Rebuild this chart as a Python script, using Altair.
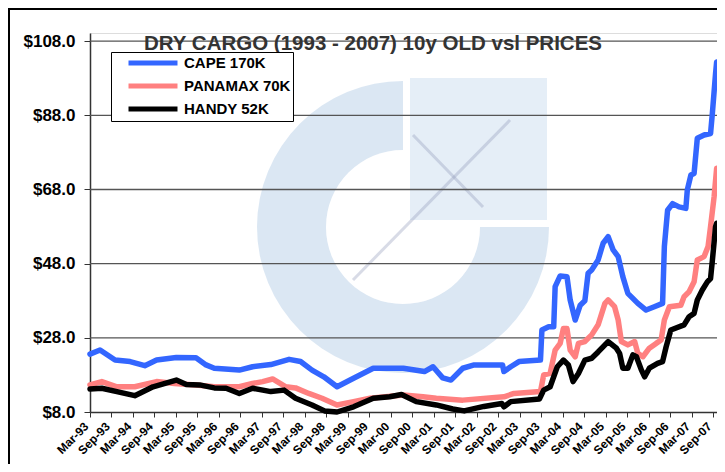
import json
import altair as alt
import pandas as pd

# ---------------- data (months since Mar-93, price in $M) ----------------
series_names = ["CAPE 170K", "PANAMAX 70K", "HANDY 52K"]
series_colors = ["#3366FF", "#FF8080", "#000000"]

cape_m = [0.0, 2.8, 7.0, 11.2, 15.3, 18.6, 24.1, 29.6, 32.4, 34.7, 41.7, 45.4, 50.5, 55.6, 58.8,
          62.0, 65.3, 69.0, 73.6, 79.1, 87.5, 93.4, 95.8, 98.5, 100.8, 104.1, 107.3, 115.2, 115.6,
          117.5, 119.8, 125.8, 126.2, 128.1, 129.5, 129.9, 131.3, 133.2, 134.1, 135.5, 136.9, 138.2,
          139.1, 140.1, 141.9, 143.3, 144.7, 146.1, 147.5, 148.8, 150.2, 153.0, 155.3, 157.6, 159.9,
          160.4, 161.3, 162.7, 164.5, 166.4, 166.8, 167.8, 168.7, 169.6, 171.5, 173.3, 173.8, 174.7, 175.0]
cape_v = [23.6, 24.7, 22.0, 21.6, 20.5, 22.0, 22.7, 22.6, 20.7, 19.8, 19.3, 20.2, 20.8, 22.2, 21.6,
          19.3, 17.5, 14.8, 17.1, 19.8, 19.8, 18.9, 20.2, 17.2, 16.6, 19.8, 20.7, 20.7, 18.9,
          20.2, 21.6, 22.0, 30.1, 31.0, 31.0, 41.8, 44.7, 44.5, 38.2, 32.8, 36.8, 38.0,
          45.4, 46.3, 49.0, 53.5, 55.3, 51.7, 49.9, 44.5, 40.0, 37.3, 35.5, 36.4, 37.3,
          52.6, 62.4, 64.2, 63.3, 62.9, 67.8, 71.9, 72.3, 81.8, 82.7, 83.1, 88.5, 99.3, 102.4]

pmax_m = [0.0, 3.3, 7.5, 12.5, 18.6, 23.6, 29.6, 34.7, 41.7, 45.4, 48.2, 51.0, 54.7, 57.4, 61.1,
          64.8, 69.0, 73.6, 78.2, 87.5, 93.0, 96.7, 104.1, 115.6, 118.4, 125.8, 126.7, 128.5, 129.9,
          131.3, 132.2, 133.2, 134.1, 135.5, 136.4, 138.2, 140.1, 141.9, 143.8, 144.7, 146.5, 147.5,
          148.4, 150.2, 152.1, 153.0, 154.4, 156.2, 158.1, 159.5, 160.4, 161.8, 165.0, 165.9, 167.3,
          168.7, 169.6, 171.5, 172.6, 173.3, 174.3, 175.0]
pmax_v = [15.3, 16.2, 14.8, 14.8, 16.2, 15.7, 15.3, 14.8, 14.8, 15.7, 16.2, 16.9, 14.8, 14.5, 13.0,
          11.7, 9.9, 10.8, 11.7, 12.6, 12.1, 11.7, 11.2, 12.1, 13.0, 13.5, 18.0, 18.4, 24.7,
          26.5, 30.5, 30.5, 24.7, 22.9, 26.5, 27.0, 28.8, 31.5, 37.3, 38.2, 36.4, 32.8,
          27.0, 26.1, 27.0, 23.8, 22.9, 25.2, 26.5, 27.4, 32.8, 36.4, 36.8, 39.1, 40.4,
          43.1, 49.0, 49.9, 52.6, 58.0, 66.1, 73.7]

handy_m = [0.0, 3.3, 7.5, 12.5, 17.6, 24.1, 26.9, 30.6, 34.7, 38.0, 41.7, 45.4, 50.5, 54.2, 57.4,
           62.0, 65.5, 69.0, 73.6, 79.1, 83.7, 87.0, 91.1, 96.7, 101.3, 104.5, 110.0, 115.0, 115.6,
           117.5, 125.5, 126.7, 128.5, 130.5, 132.2, 133.6, 134.9, 136.4, 138.2, 140.1, 141.9, 144.7,
           147.0, 147.9, 148.8, 150.2, 151.6, 152.6, 154.0, 154.9, 156.2, 158.5, 159.9, 160.9, 162.2,
           165.9, 167.3, 168.7, 169.6, 171.0, 172.4, 173.3, 173.8, 174.7, 175.0]
handy_v = [14.2, 14.4, 13.5, 12.4, 14.8, 16.6, 15.4, 15.3, 14.5, 14.4, 13.0, 14.4, 13.5, 13.9, 11.7,
           9.9, 8.3, 8.0, 9.4, 11.7, 12.1, 12.7, 10.8, 9.9, 8.8, 8.3, 9.5, 10.3, 9.4,
           10.8, 11.5, 13.9, 14.8, 20.2, 22.0, 20.7, 16.2, 18.4, 22.0, 22.5, 24.2, 27.0,
           25.2, 23.8, 19.8, 19.8, 23.4, 22.9, 19.3, 17.5, 19.8, 21.1, 21.6, 25.6, 30.1,
           31.5, 33.7, 34.6, 38.2, 40.9, 43.1, 44.0, 48.8, 58.0, 58.9]

x_tick_values = [0, 6, 12, 18, 24, 30, 36, 42, 48, 54, 60, 66, 72, 78, 84, 90, 96, 102, 108,
                 114, 120, 126, 132, 138, 144, 150, 156, 162, 168, 174]
x_tick_labels = ["Mar-93", "Sep-93", "Mar-94", "Sep-94", "Mar-95", "Sep-95", "Mar-96", "Sep-96",
                 "Mar-97", "Sep-97", "Mar-98", "Sep-98", "Mar-99", "Sep-99", "Mar-00", "Sep-00",
                 "Mar-01", "Sep-01", "Mar-02", "Sep-02", "Mar-03", "Sep-03", "Mar-04", "Sep-04",
                 "Mar-05", "Sep-05", "Mar-06", "Sep-06", "Mar-07", "Sep-07"]
y_tick_values = [8, 28, 48, 68, 88, 108]
grid_values = [28, 48, 68, 88, 108]
title_text = "DRY CARGO (1993 - 2007) 10y OLD vsl PRICES"

# ---------------- frames ----------------
frames = []
for name, ms, vs in [(series_names[0], cape_m, cape_v),
                     (series_names[1], pmax_m, pmax_v),
                     (series_names[2], handy_m, handy_v)]:
    frames.append(pd.DataFrame({"m": ms, "v": vs, "s": name}))
df = pd.concat(frames, ignore_index=True)
grid_df = pd.DataFrame({"v": grid_values})
one = pd.DataFrame({"a": [0]})

FONT = "Liberation Sans"
PL, PT = 82, 25          # padding left / top -> plot origin at page (90, 33)
W, H = 627, 379

label_expr = json.dumps(x_tick_labels) + "[round(datum.value / 6)]"

x_enc = alt.X("m:Q",
              scale=alt.Scale(domain=[0, 175.1], nice=False, zero=False),
              axis=alt.Axis(values=x_tick_values, labelExpr=label_expr, labelAngle=-45,
                            labelAlign="right", labelBaseline="middle", labelFontSize=12,
                            labelFontWeight="bold", labelFont=FONT, labelColor="black",
                            labelPadding=7, labelOffset=-4, labelOverlap=False, labelFlush=False,
                            tickSize=5, tickColor="#333333", domainColor="#333333",
                            domainWidth=1.5, grid=False, title=None))
y_enc = alt.Y("v:Q",
              scale=alt.Scale(domain=[8, 110.2], nice=False, zero=False),
              axis=alt.Axis(values=y_tick_values, format="$.1f", labelFontSize=17,
                            labelFontWeight="bold", labelFont=FONT, labelColor="black",
                            labelPadding=9, tickSize=6, tickColor="#333333",
                            domainColor="#333333", domainWidth=1.5, grid=False, title=None))

color_enc = alt.Color("s:N",
                      scale=alt.Scale(domain=series_names, range=series_colors),
                      legend=alt.Legend(orient="none", legendX=21, legendY=19, title=None,
                                        symbolType="M-4,0H4", symbolStrokeWidth=5,
                                        symbolSize=150, labelFontSize=15,
                                        labelFontWeight="bold", labelFont=FONT,
                                        labelColor="black", fillColor="white",
                                        strokeColor="black", padding=2, rowPadding=3,
                                        symbolOffset=31, labelOffset=22))

# ---------------- watermark (faint logo) ----------------
ring = alt.Chart(one).mark_arc(fill="#A9C6E2", opacity=0.42).encode(
    x=alt.value(313), y=alt.value(194), theta=alt.value(1.5708), theta2=alt.value(6.2832),
    radius=alt.value(146), radius2=alt.value(77))
hole = alt.Chart(one).mark_arc(fill="white", opacity=0.3).encode(
    x=alt.value(313), y=alt.value(194), theta=alt.value(0), theta2=alt.value(6.2832),
    radius=alt.value(77))
square = alt.Chart(one).mark_rect(fill="#B8CFEA", opacity=0.36).encode(
    x=alt.value(320), x2=alt.value(457), y=alt.value(45), y2=alt.value(187))
diag1 = alt.Chart(one).mark_rule(color="#8E98B8", opacity=0.35, strokeWidth=3).encode(
    x=alt.value(263), y=alt.value(247), x2=alt.value(420), y2=alt.value(87))
diag2 = alt.Chart(one).mark_rule(color="#8E98B8", opacity=0.35, strokeWidth=3).encode(
    x=alt.value(323), y=alt.value(102), x2=alt.value(393), y2=alt.value(174))

grid = alt.Chart(grid_df).mark_rule(color="#555555", strokeWidth=1.3).encode(y=y_enc)

lines = []
for name in series_names:
    lines.append(
        alt.Chart(df).transform_filter(alt.datum.s == name).mark_line(
            strokeWidth=5.5, strokeCap="round", strokeJoin="round").encode(
            x=x_enc, y=y_enc, color=color_enc, order="m:Q"))

title = alt.Chart(one).mark_text(text=title_text, font=FONT, fontSize=20.5, fontWeight="bold",
                                 color="#333333", align="center", baseline="alphabetic").encode(
    x=alt.value(283), y=alt.value(17))

frame_top = alt.Chart(one).mark_rule(color="black", strokeWidth=2).encode(
    x=alt.value(-PL), x2=alt.value(W + 5), y=alt.value(-PT + 1))
frame_left = alt.Chart(one).mark_rule(color="black", strokeWidth=2).encode(
    x=alt.value(-PL + 1), y=alt.value(-PT), y2=alt.value(H + 60))

chart = alt.layer(ring, hole, square, diag1, diag2, grid, *lines, title, frame_top, frame_left).properties(
    width=W, height=H,
    autosize=alt.AutoSizeParams(type="none"),
    padding={"left": PL, "top": PT, "right": 0, "bottom": 52},
    background="white",
).configure_view(fill="#E8E8FA", stroke="#808080", strokeWidth=2).configure(font=FONT)

chart.save("out.html", embed_options={"renderer": "svg", "actions": False})
